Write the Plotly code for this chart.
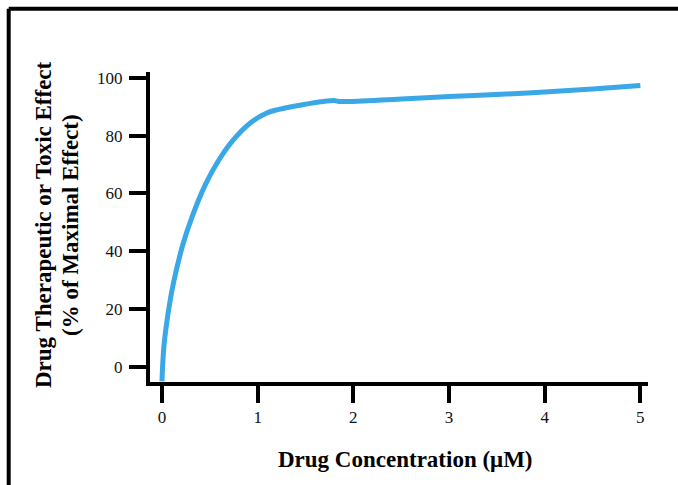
import plotly.graph_objects as go

# Data
conc = [0.0, 0.02, 0.066, 0.12, 0.22, 0.31, 0.45, 0.59, 0.746, 0.92, 1.095, 1.21, 1.47, 1.81, 1.86, 2.5, 3.0, 3.6, 4.0, 4.5, 5.0]
effect = [-5.0, 7.0, 19.0, 29.0, 42.5, 51.5, 62.8, 71.3, 78.5, 84.3, 87.8, 89.0, 90.7, 92.1, 91.8, 92.7, 93.5, 94.4, 95.1, 96.1, 97.3]

x_ticks = [0, 1, 2, 3, 4, 5]
y_ticks = [0, 20, 40, 60, 80, 100]

x_title = "Drug Concentration (μM)"
y_title_line1 = "Drug Therapeutic or Toxic Effect"
y_title_line2 = "(% of Maximal Effect)"

W, H = 678, 485
ml, mr, mt, mb = 150, 30, 72, 103
pw, ph = W - ml - mr, H - mt - mb

fig = go.Figure()
fig.add_trace(go.Scatter(
    x=conc, y=effect, mode="lines",
    line=dict(color="#3aa8e6", width=5, shape="spline", smoothing=1.0),
    hoverinfo="skip", showlegend=False,
))

font_serif = "Liberation Serif, Times New Roman, serif"

axis_common = dict(
    showline=True, linecolor="black", linewidth=4,
    ticks="outside", ticklen=17, tickwidth=4, tickcolor="black",
    showgrid=False, zeroline=False,
    tickfont=dict(family=font_serif, size=17, color="#111"),
)

fig.update_xaxes(range=[-0.125, 5.08], tickvals=x_ticks, **axis_common)
fig.update_yaxes(range=[-5.2, 102], tickvals=y_ticks, ticklabelstandoff=3, **axis_common)

# frame lines (top and left) like the reference
fx = (8.7 - ml) / pw
fy = (H - mb - 8.7) / ph
fig.add_shape(type="line", xref="paper", yref="paper", x0=fx, x1=2, y0=fy, y1=fy,
              line=dict(color="black", width=4))
fig.add_shape(type="line", xref="paper", yref="paper", x0=fx, x1=fx, y0=fy, y1=-2,
              line=dict(color="black", width=4))

title_font = dict(family=font_serif, size=23, color="black", weight="bold")

fig.add_annotation(
    text=x_title, xref="paper", yref="paper",
    x=(405 - ml) / pw, y=(H - mb - 459) / ph, showarrow=False,
    xanchor="center", yanchor="middle", font=title_font,
)
fig.add_annotation(
    text=y_title_line1, xref="paper", yref="paper",
    x=(43 - ml) / pw, y=(H - mb - 225) / ph, showarrow=False,
    xanchor="center", yanchor="middle", textangle=-90, font=title_font,
)
fig.add_annotation(
    text=y_title_line2, xref="paper", yref="paper",
    x=(70 - ml) / pw, y=(H - mb - 225) / ph, showarrow=False,
    xanchor="center", yanchor="middle", textangle=-90, font=title_font,
)

fig.update_layout(
    width=W, height=H,
    margin=dict(l=ml, r=mr, t=mt, b=mb),
    paper_bgcolor="white", plot_bgcolor="white",
    font=dict(family=font_serif),
)

fig.write_html("out.html", config={"displayModeBar": False},
               post_script="document.body.style.margin='0';document.body.style.padding='0';")
